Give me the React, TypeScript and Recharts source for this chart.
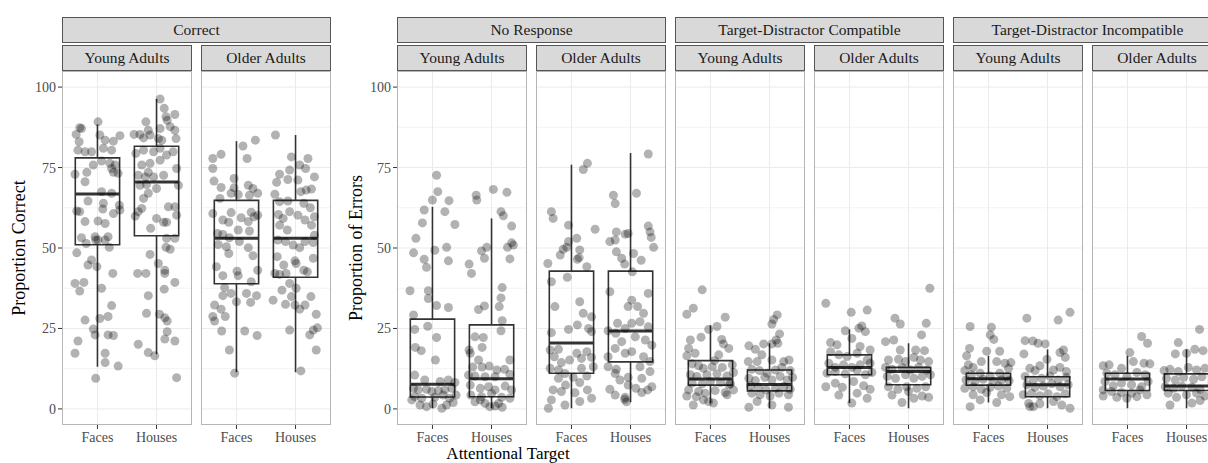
import React from 'react';
import { ComposedChart, Scatter, XAxis, YAxis, CartesianGrid, ReferenceArea, ReferenceLine } from 'recharts';

const measures = ['Correct', 'No Response', 'Target-Distractor Compatible', 'Target-Distractor Incompatible'];
const groups = ['Young Adults', 'Older Adults'];
const targets = ['Faces', 'Houses'];
const yTicks = [0, 25, 50, 75, 100];
const yMinor = [12.5, 37.5, 62.5, 87.5];

// box summaries per panel: [lower whisker, q1, median, q3, upper whisker] for Faces, Houses
const correctYoungBox = [[13.1, 51.0, 66.8, 78.0, 88.4], [17.0, 53.8, 70.5, 81.6, 96.3]];
const correctOlderBox = [[11.4, 38.9, 53.0, 64.8, 83.2], [11.4, 40.9, 53.0, 64.8, 85.1]];
const noRespYoungBox = [[0.2, 3.7, 7.7, 27.9, 62.8], [0.2, 3.8, 9.4, 26.1, 59.2]];
const noRespOlderBox = [[0.2, 11.1, 20.5, 42.8, 75.9], [2.1, 14.6, 24.2, 42.8, 79.5]];
const compYoungBox = [[1.8, 7.4, 9.3, 15.0, 26.0], [0.2, 5.6, 7.6, 12.1, 20.4]];
const compOlderBox = [[1.8, 10.6, 12.9, 16.8, 24.7], [0.2, 7.5, 11.6, 12.9, 20.4]];
const incompYoungBox = [[2.0, 7.4, 9.4, 11.1, 16.5], [0.2, 3.8, 7.5, 10.0, 18.5]];
const incompOlderBox = [[0.2, 5.7, 9.3, 11.1, 16.5], [0.2, 5.7, 7.1, 10.9, 18.5]];

// jittered participants: [horizontal jitter, value]
const correctYoungFaces = [[0.01,89.2],[-0.30,87.4],[-0.27,87.1],[-0.36,85.3],[-0.31,83.0],[0.04,85.1],[0.13,83.5],[0.27,83.2],[0.38,84.9],[-0.33,80.4],[-0.21,79.9],[-0.10,79.9],[0.10,81.0],[0.24,80.4],[0.07,77.0],[0.21,76.3],[0.30,75.8],[-0.38,72.9],[-0.18,73.5],[-0.21,70.6],[-0.07,75.8],[0.24,74.7],[0.35,73.2],[0.27,73.5],[0.07,67.5],[0.24,67.0],[-0.16,64.6],[0.10,63.9],[0.37,63.3],[-0.35,61.5],[-0.30,61.3],[0.09,62.1],[0.27,60.7],[0.38,61.8],[-0.21,58.2],[0.01,58.4],[0.13,57.6],[-0.27,53.2],[-0.04,53.5],[-0.03,52.5],[0.18,53.5],[0.20,50.2],[-0.19,51.4],[0.01,52.5],[0.13,52.5],[-0.35,48.5],[-0.16,44.7],[-0.10,46.3],[-0.01,44.2],[0.26,42.1],[-0.38,39.0],[-0.30,36.6],[-0.23,39.3],[0.07,37.5],[0.24,32.1],[-0.21,27.6],[0.04,28.1],[0.18,28.7],[-0.07,24.8],[-0.04,23.0],[0.18,23.0],[0.27,22.8],[-0.33,21.1],[-0.38,17.3],[0.13,17.3],[0.13,14.4],[0.35,13.3],[-0.03,9.5]];
const correctYoungHouses = [[0.06,96.3],[0.13,93.4],[0.31,91.5],[0.16,90.8],[0.18,89.7],[-0.18,89.2],[0.23,87.7],[0.06,87.1],[-0.14,86.6],[0.31,86.6],[-0.38,85.3],[-0.28,85.3],[-0.22,84.2],[-0.11,85.1],[0.03,84.0],[0.09,83.5],[0.33,84.0],[-0.35,79.4],[-0.22,80.4],[-0.05,79.9],[0.06,81.0],[0.17,78.9],[0.28,79.9],[-0.25,75.8],[-0.11,76.3],[0.06,77.3],[0.34,74.7],[-0.31,72.6],[-0.19,72.1],[-0.14,73.5],[-0.05,72.1],[0.12,72.6],[-0.28,69.5],[-0.17,69.7],[0.00,68.5],[0.37,69.5],[-0.14,67.0],[-0.22,65.4],[-0.25,62.3],[-0.31,61.3],[-0.36,59.9],[0.20,62.8],[0.31,62.8],[0.34,60.2],[0.00,59.2],[0.12,58.0],[0.17,58.0],[-0.10,56.1],[0.17,53.0],[0.31,53.0],[0.16,50.2],[0.23,49.6],[-0.11,48.0],[0.03,45.2],[-0.32,42.1],[-0.18,42.1],[0.14,42.1],[0.31,39.3],[0.14,43.1],[-0.14,35.2],[0.13,37.2],[-0.17,29.7],[0.05,29.4],[0.14,28.3],[0.18,27.3],[0.18,24.0],[0.14,21.7],[0.31,21.1],[-0.31,20.1],[-0.14,17.5],[-0.03,16.5],[0.34,9.7]];
const correctOlderFaces = [[0.32,83.5],[0.11,81.7],[0.18,77.8],[-0.26,79.1],[-0.40,77.8],[-0.40,74.7],[-0.38,70.8],[-0.26,68.8],[-0.04,71.6],[-0.04,68.7],[-0.28,65.4],[-0.09,67.0],[0.03,66.6],[0.20,69.5],[0.28,68.5],[0.36,67.0],[0.22,66.4],[-0.40,60.7],[-0.23,58.7],[-0.09,61.0],[-0.13,58.0],[0.08,59.4],[0.25,61.1],[0.30,59.7],[0.20,58.2],[0.36,60.2],[0.03,55.6],[0.22,55.3],[-0.32,54.5],[-0.23,54.2],[-0.12,53.2],[-0.31,51.1],[-0.17,50.4],[0.05,52.0],[0.20,50.1],[0.28,47.6],[-0.13,48.3],[-0.34,44.2],[-0.23,41.4],[0.01,42.8],[0.03,41.4],[0.25,39.5],[0.36,43.1],[-0.20,37.7],[-0.23,35.2],[-0.09,35.9],[0.00,33.3],[0.17,35.9],[0.34,35.2],[0.24,33.1],[-0.37,32.3],[-0.26,31.0],[-0.40,28.7],[-0.37,27.3],[-0.19,28.7],[-0.25,24.2],[0.14,24.2],[0.35,22.8],[-0.12,18.3],[-0.03,11.1]];
const correctOlderHouses = [[-0.34,85.1],[-0.07,78.3],[0.07,75.8],[0.21,77.8],[0.17,74.7],[-0.27,72.9],[-0.10,74.2],[-0.13,71.3],[0.04,71.1],[0.32,72.1],[-0.32,70.4],[-0.35,66.7],[0.09,67.5],[0.18,68.0],[0.27,68.3],[-0.27,64.4],[-0.13,64.6],[0.14,63.9],[0.25,62.5],[0.32,59.7],[-0.29,60.4],[-0.21,59.2],[-0.10,61.3],[0.04,60.2],[0.16,58.7],[-0.27,57.1],[-0.14,55.6],[0.27,57.1],[0.32,54.0],[-0.30,52.5],[-0.17,52.0],[-0.04,50.9],[0.07,50.1],[0.16,52.0],[0.30,51.7],[-0.31,47.3],[-0.20,44.7],[-0.01,46.0],[0.01,45.2],[0.14,43.1],[0.30,46.8],[-0.35,42.1],[-0.27,41.8],[-0.16,42.1],[0.20,42.6],[-0.10,39.0],[0.01,37.5],[-0.23,36.9],[-0.07,34.9],[-0.38,33.8],[-0.17,32.5],[-0.01,32.3],[0.07,31.0],[0.16,32.3],[0.26,34.9],[0.35,29.4],[-0.10,24.5],[0.24,23.0],[0.30,24.5],[0.37,25.2],[0.35,18.3],[0.09,11.8]];
const noRespYoungFaces = [[0.07,72.6],[0.09,67.5],[0.00,64.9],[-0.14,61.8],[-0.17,57.8],[0.28,64.7],[0.21,61.3],[0.38,57.3],[-0.28,53.0],[-0.32,48.5],[-0.14,46.5],[-0.10,44.0],[0.04,49.3],[0.24,50.2],[0.27,46.0],[-0.38,36.7],[-0.07,36.7],[-0.07,34.3],[0.07,32.1],[0.27,31.5],[-0.32,29.2],[-0.08,25.7],[-0.30,24.7],[0.07,22.2],[-0.29,19.1],[-0.19,18.1],[0.05,15.2],[-0.30,10.5],[-0.13,9.0],[0.13,8.5],[0.27,9.0],[0.38,8.2],[-0.32,6.4],[-0.24,5.9],[-0.10,6.1],[-0.01,5.4],[0.10,5.7],[0.21,5.9],[0.33,6.4],[-0.30,3.8],[-0.18,3.3],[0.04,3.6],[0.18,4.3],[0.29,3.3],[0.40,4.3],[-0.21,1.2],[-0.10,0.7],[0.01,1.5],[0.16,0.2],[0.24,1.2],[-0.35,2.8],[0.35,2.0]];
const noRespYoungHouses = [[0.03,68.2],[0.26,67.3],[-0.26,66.4],[-0.25,64.9],[0.16,61.3],[0.20,60.0],[0.34,56.8],[0.34,51.6],[0.37,50.9],[0.27,50.2],[-0.17,49.1],[-0.08,50.2],[-0.12,46.8],[0.31,46.6],[-0.38,45.0],[-0.34,42.1],[0.18,37.7],[0.16,34.5],[0.13,31.8],[-0.12,32.0],[-0.22,30.9],[0.18,27.4],[0.16,24.3],[-0.28,22.4],[-0.14,22.2],[-0.16,19.1],[-0.38,18.3],[-0.36,17.3],[0.31,15.2],[-0.22,15.2],[-0.32,13.0],[-0.16,13.0],[-0.04,13.3],[0.09,12.1],[0.22,12.3],[-0.39,10.5],[-0.28,10.2],[-0.11,10.0],[0.06,10.0],[0.31,10.8],[-0.36,7.4],[-0.19,6.4],[-0.05,6.9],[0.06,5.9],[0.23,7.1],[0.34,5.9],[-0.35,4.3],[-0.17,3.8],[0.00,4.8],[0.17,3.6],[0.31,3.3],[-0.28,2.2],[-0.11,1.7],[-0.03,0.7],[0.06,0.9],[0.18,0.5],[-0.19,2.8],[0.12,1.7]];
const noRespOlderFaces = [[0.27,76.3],[0.20,74.4],[-0.34,61.3],[-0.31,59.2],[-0.05,57.1],[0.40,55.8],[-0.05,52.0],[0.09,53.0],[-0.08,50.2],[0.14,49.4],[-0.14,49.6],[-0.19,47.8],[-0.40,45.2],[0.10,46.5],[0.13,47.0],[0.26,44.2],[-0.07,40.9],[-0.34,39.5],[0.14,33.3],[-0.28,31.8],[0.20,29.7],[0.34,28.6],[0.10,26.1],[-0.05,24.7],[-0.34,23.7],[0.29,25.0],[0.34,24.0],[-0.36,18.3],[-0.22,18.5],[0.09,17.3],[0.26,17.8],[-0.29,16.2],[-0.17,14.4],[-0.03,15.2],[0.17,15.7],[0.34,16.0],[-0.36,12.6],[-0.22,12.1],[-0.11,11.0],[0.17,12.6],[0.37,13.1],[-0.22,9.5],[0.03,9.8],[0.26,10.2],[-0.10,7.4],[0.14,8.2],[-0.31,5.9],[-0.17,5.4],[0.06,5.0],[0.27,5.9],[-0.34,2.8],[-0.11,1.2],[0.14,2.3],[0.34,3.3],[-0.39,0.2]];
const noRespOlderHouses = [[0.30,79.2],[-0.29,66.4],[-0.26,63.8],[0.10,67.0],[-0.24,55.0],[-0.35,52.0],[-0.26,52.5],[-0.09,54.3],[-0.04,54.5],[0.30,56.8],[0.33,55.0],[0.35,53.3],[0.39,50.2],[-0.24,48.8],[-0.15,46.8],[-0.10,45.0],[0.05,48.3],[0.18,46.2],[0.03,42.6],[-0.35,36.4],[0.02,33.8],[-0.04,31.8],[0.30,35.9],[0.12,31.8],[0.22,29.7],[-0.22,26.6],[-0.09,25.0],[0.02,26.6],[0.16,27.1],[0.30,25.5],[-0.38,24.3],[-0.25,23.5],[-0.15,20.9],[0.08,22.4],[0.25,21.4],[0.36,19.8],[-0.26,18.8],[-0.09,17.3],[0.02,17.8],[0.22,16.2],[-0.38,16.2],[0.33,14.7],[-0.38,13.1],[-0.24,12.3],[0.16,13.1],[0.33,11.6],[-0.26,11.0],[-0.04,9.8],[0.19,9.5],[-0.18,9.0],[-0.04,7.4],[0.09,6.4],[0.36,6.9],[-0.35,6.1],[0.19,5.1],[0.29,5.9],[-0.09,3.6],[-0.10,3.0],[-0.26,4.3],[-0.07,2.2]];
const compYoungFaces = [[-0.14,37.0],[-0.40,29.4],[-0.29,31.3],[0.25,28.5],[-0.03,24.7],[0.11,25.6],[0.19,21.6],[-0.16,22.3],[-0.34,21.4],[-0.37,18.8],[-0.26,17.3],[-0.40,16.5],[0.22,20.2],[0.31,18.8],[0.14,16.8],[0.07,15.0],[-0.31,14.0],[-0.20,13.4],[-0.12,12.6],[0.03,13.1],[0.20,12.9],[0.37,13.7],[-0.34,10.6],[-0.23,10.1],[-0.06,10.6],[0.11,10.9],[0.28,10.2],[0.39,11.3],[-0.31,8.0],[-0.14,7.8],[0.00,8.5],[0.17,8.2],[0.34,7.8],[-0.37,5.9],[-0.20,5.4],[-0.09,4.9],[0.08,5.7],[0.25,5.1],[0.39,5.9],[-0.40,4.0],[-0.24,3.8],[-0.12,2.8],[0.05,1.8],[0.28,4.4],[0.31,7.5],[-0.29,1.2],[-0.03,2.3]];
const compYoungHouses = [[0.13,29.2],[0.07,27.8],[0.04,26.4],[0.17,23.3],[0.11,21.4],[-0.35,19.6],[-0.24,18.5],[-0.10,20.2],[0.04,20.2],[0.14,20.4],[-0.36,14.7],[-0.21,14.7],[-0.13,16.8],[0.04,15.2],[0.24,14.7],[0.33,15.2],[-0.30,12.3],[-0.17,11.9],[-0.04,11.1],[0.10,12.1],[0.21,12.9],[0.35,11.9],[-0.35,9.5],[-0.24,8.8],[-0.08,9.8],[0.04,9.0],[0.18,10.1],[0.30,9.0],[0.39,9.8],[-0.32,7.2],[-0.19,6.7],[-0.06,5.9],[0.10,6.4],[0.24,7.0],[0.35,6.1],[-0.30,4.9],[-0.16,4.4],[0.01,4.0],[0.16,4.9],[0.32,4.4],[-0.35,0.5],[0.04,1.2],[0.32,0.5],[-0.21,2.3]];
const compOlderFaces = [[-0.40,32.8],[0.03,30.0],[0.30,30.7],[-0.07,24.3],[0.16,25.1],[0.21,25.8],[0.27,24.0],[-0.32,20.6],[-0.21,19.9],[0.04,21.9],[0.18,19.4],[0.35,18.3],[-0.32,17.8],[-0.18,16.8],[-0.04,16.3],[0.13,17.3],[0.30,15.2],[-0.35,14.2],[-0.24,12.9],[-0.10,13.7],[0.04,12.9],[0.18,13.7],[0.35,14.2],[-0.38,11.1],[-0.24,11.6],[-0.07,10.9],[0.13,12.1],[0.27,10.6],[0.38,11.3],[-0.40,6.9],[-0.24,8.0],[-0.12,6.7],[0.07,8.5],[0.24,7.2],[0.35,6.1],[-0.18,4.3],[0.13,4.9],[0.30,3.3],[0.04,1.8]];
const compOlderHouses = [[0.36,37.5],[-0.23,28.2],[-0.14,26.4],[0.30,26.6],[0.22,23.0],[-0.39,20.9],[-0.25,21.4],[-0.14,18.3],[0.12,18.3],[0.27,18.1],[-0.34,15.2],[-0.17,15.4],[-0.05,14.7],[0.09,16.0],[0.20,15.2],[0.34,14.7],[-0.39,12.9],[-0.28,12.3],[-0.11,12.9],[0.03,12.1],[0.17,12.9],[0.31,12.1],[-0.36,10.1],[-0.22,9.5],[-0.05,10.6],[0.09,9.5],[0.23,10.1],[0.37,10.6],[-0.34,6.9],[-0.18,6.1],[-0.03,6.9],[0.14,6.4],[0.29,6.9],[-0.28,4.3],[-0.11,2.0],[0.09,3.3],[0.23,4.0],[0.34,3.6],[0.00,5.4]];
const incompYoungFaces = [[-0.31,25.6],[0.05,25.4],[0.03,23.0],[0.09,21.6],[-0.32,18.8],[-0.37,16.5],[-0.03,17.9],[0.19,17.9],[0.38,14.4],[-0.34,13.7],[-0.26,12.9],[-0.12,14.7],[0.14,14.7],[0.28,14.2],[0.34,12.6],[-0.40,11.9],[-0.29,10.6],[-0.14,11.1],[0.03,10.2],[0.19,11.1],[0.31,10.1],[-0.38,9.0],[-0.23,8.5],[-0.09,9.2],[0.08,8.5],[0.22,9.0],[0.35,8.8],[-0.40,6.4],[-0.26,6.9],[-0.12,6.1],[0.03,6.7],[0.17,7.1],[0.31,6.4],[-0.26,4.4],[-0.03,5.1],[0.22,4.4],[0.36,3.8],[-0.31,0.7],[-0.14,2.8],[0.14,2.0]];
const incompYoungHouses = [[-0.35,28.2],[0.18,27.6],[0.38,30.0],[-0.38,21.2],[-0.25,21.1],[-0.16,20.4],[-0.04,20.2],[0.27,18.3],[0.30,16.0],[0.21,17.5],[-0.40,17.1],[-0.13,13.4],[-0.01,15.4],[-0.30,12.6],[-0.21,11.9],[0.10,12.1],[0.21,12.9],[0.32,11.6],[-0.38,10.1],[-0.24,9.0],[-0.10,9.5],[0.04,10.2],[0.18,9.0],[0.32,9.8],[-0.35,7.5],[-0.21,6.7],[-0.07,7.1],[0.07,7.8],[0.21,6.9],[0.35,7.5],[-0.41,4.4],[-0.27,4.9],[-0.13,4.1],[0.01,4.7],[0.16,3.8],[0.30,4.7],[-0.32,1.7],[-0.13,1.6],[0.10,2.3],[0.24,1.2],[0.38,0.2],[-0.24,0.7],[-0.30,0.7]];
const incompOlderFaces = [[0.24,22.5],[0.34,20.4],[0.04,17.5],[-0.41,13.4],[-0.31,13.7],[-0.10,12.6],[0.10,14.7],[0.28,14.2],[0.38,14.0],[-0.35,11.1],[-0.21,10.6],[-0.01,10.1],[0.16,11.3],[0.30,10.6],[-0.38,8.5],[-0.24,7.2],[-0.10,8.0],[0.07,7.5],[0.24,6.9],[0.35,8.5],[-0.41,5.9],[-0.27,5.4],[-0.10,5.1],[0.07,4.9],[0.21,5.9],[0.33,4.4],[-0.41,4.0],[-0.18,3.6],[-0.01,3.3],[0.16,3.8]];
const incompOlderHouses = [[0.22,24.7],[-0.14,20.6],[-0.19,17.1],[0.00,17.3],[0.14,18.5],[0.28,18.1],[-0.38,11.9],[-0.28,12.3],[-0.14,11.6],[0.03,12.9],[0.17,12.1],[0.31,12.6],[-0.34,9.5],[-0.19,9.0],[-0.05,9.8],[0.12,9.2],[0.26,10.0],[-0.36,6.9],[-0.22,6.4],[-0.08,7.1],[0.09,6.7],[0.23,6.1],[-0.31,4.9],[-0.17,3.6],[0.00,4.4],[0.17,4.9],[0.31,4.0],[-0.28,1.2],[0.09,1.8],[0.23,2.6]];

const panels = [
  { measure: 0, group: 0, box: correctYoungBox, pts: [correctYoungFaces, correctYoungHouses] },
  { measure: 0, group: 1, box: correctOlderBox, pts: [correctOlderFaces, correctOlderHouses] },
  { measure: 1, group: 0, box: noRespYoungBox, pts: [noRespYoungFaces, noRespYoungHouses] },
  { measure: 1, group: 1, box: noRespOlderBox, pts: [noRespOlderFaces, noRespOlderHouses] },
  { measure: 2, group: 0, box: compYoungBox, pts: [compYoungFaces, compYoungHouses] },
  { measure: 2, group: 1, box: compOlderBox, pts: [compOlderFaces, compOlderHouses] },
  { measure: 3, group: 0, box: incompYoungBox, pts: [incompYoungFaces, incompYoungHouses] },
  { measure: 3, group: 1, box: incompOlderBox, pts: [incompOlderFaces, incompOlderHouses] },
];

const FONT = '"Liberation Serif", "Times New Roman", serif';
const panelLefts = [62, 201, 397, 536, 675, 814, 953, 1092];
const PW = 130;
const TOP = 71;
const PH = 354;
const AXW = 40;
const HALF = 0.375;

const dot = (p: any) => <circle cx={p.cx} cy={p.cy} r={4.5} fill="#000" fillOpacity={0.3} />;

const stripStyle: React.CSSProperties = {
  position: 'absolute', height: 26, boxSizing: 'border-box', background: '#d9d9d9',
  border: '1px solid #555', display: 'flex', alignItems: 'center', justifyContent: 'center',
  fontSize: 15.5, color: '#1a1a1a', whiteSpace: 'nowrap', overflow: 'hidden',
};

function Panel({ idx }: { idx: number }) {
  const p = panels[idx];
  const showY = idx === 0 || idx === 2;
  const axw = showY ? AXW : 0;
  const data = p.pts.flatMap((arr, c) => arr.map(([j, v]) => ({ x: c + 1 + j, y: v })));
  const tick = { fontSize: 14, fill: '#4d4d4d', fontFamily: FONT };
  return (
    <div style={{ position: 'absolute', left: panelLefts[idx] - axw, top: TOP }}>
      <ComposedChart width={PW + axw} height={PH + 36} margin={{ top: 0, right: 0, bottom: 0, left: 0 }}>
        <CartesianGrid horizontalValues={yMinor} vertical={false} stroke="#f3f3f3" />
        <CartesianGrid horizontalValues={yTicks} verticalValues={[1, 2]} stroke="#ebebeb" />
        <XAxis type="number" dataKey="x" domain={[0.4, 2.6]} allowDataOverflow ticks={[1, 2]} interval={0}
          tickFormatter={(v: number) => targets[v - 1]} height={36} axisLine={false}
          tickLine={{ stroke: '#333' }} tickSize={4} tickMargin={3} tick={tick} />
        <YAxis type="number" dataKey="y" domain={[-5, 105]} allowDataOverflow ticks={yTicks} interval={0}
          width={axw} hide={!showY} axisLine={false} tickLine={{ stroke: '#333' }} tickSize={4}
          tickMargin={2} tick={tick} />
        <Scatter data={data} dataKey="y" shape={dot} isAnimationActive={false} />
        {p.box.map(([lo, q1, med, q3, hi], c) => (
          <React.Fragment key={c}>
            <ReferenceLine segment={[{ x: c + 1, y: lo }, { x: c + 1, y: q1 }]} stroke="#333" strokeWidth={1.6} />
            <ReferenceLine segment={[{ x: c + 1, y: q3 }, { x: c + 1, y: hi }]} stroke="#333" strokeWidth={1.6} />
            <ReferenceArea x1={c + 1 - HALF} x2={c + 1 + HALF} y1={q1} y2={q3} fill="none" fillOpacity={0}
              stroke="#333" strokeWidth={1.6} strokeOpacity={1} />
            <ReferenceLine segment={[{ x: c + 1 - HALF, y: med }, { x: c + 1 + HALF, y: med }]} stroke="#333" strokeWidth={3} />
          </React.Fragment>
        ))}
      </ComposedChart>
      <div style={{ position: 'absolute', left: axw, top: 0, width: PW, height: PH, boxSizing: 'border-box',
        border: '1px solid #b5b5b5', pointerEvents: 'none' }} />
    </div>
  );
}

export default function App() {
  return (
    <div style={{ position: 'absolute', left: 0, top: 0, width: 1208, height: 463, overflow: 'hidden',
      background: '#fff', fontFamily: FONT }}>
      {measures.map((m, i) => (
        <div key={m} style={{ ...stripStyle, top: 17, left: panelLefts[i * 2], width: panelLefts[i * 2 + 1] + PW - panelLefts[i * 2] }}>{m}</div>
      ))}
      {panels.map((p, i) => (
        <div key={'s' + i} style={{ ...stripStyle, top: 45, left: panelLefts[i], width: PW }}>{groups[p.group]}</div>
      ))}
      {panels.map((_, i) => <Panel key={i} idx={i} />)}
      <div style={{ position: 'absolute', left: 19, top: 248, transform: 'translate(-50%, -50%) rotate(-90deg)',
        fontSize: 18, lineHeight: '18px', whiteSpace: 'nowrap', color: '#000' }}>Proportion Correct</div>
      <div style={{ position: 'absolute', left: 356, top: 248, transform: 'translate(-50%, -50%) rotate(-90deg)',
        fontSize: 18, lineHeight: '18px', whiteSpace: 'nowrap', color: '#000' }}>Proportion of Errors</div>
      <div style={{ position: 'absolute', left: 508, top: 446, transform: 'translateX(-50%)',
        fontSize: 17, lineHeight: '16px', whiteSpace: 'nowrap', color: '#000' }}>Attentional Target</div>
    </div>
  );
}
